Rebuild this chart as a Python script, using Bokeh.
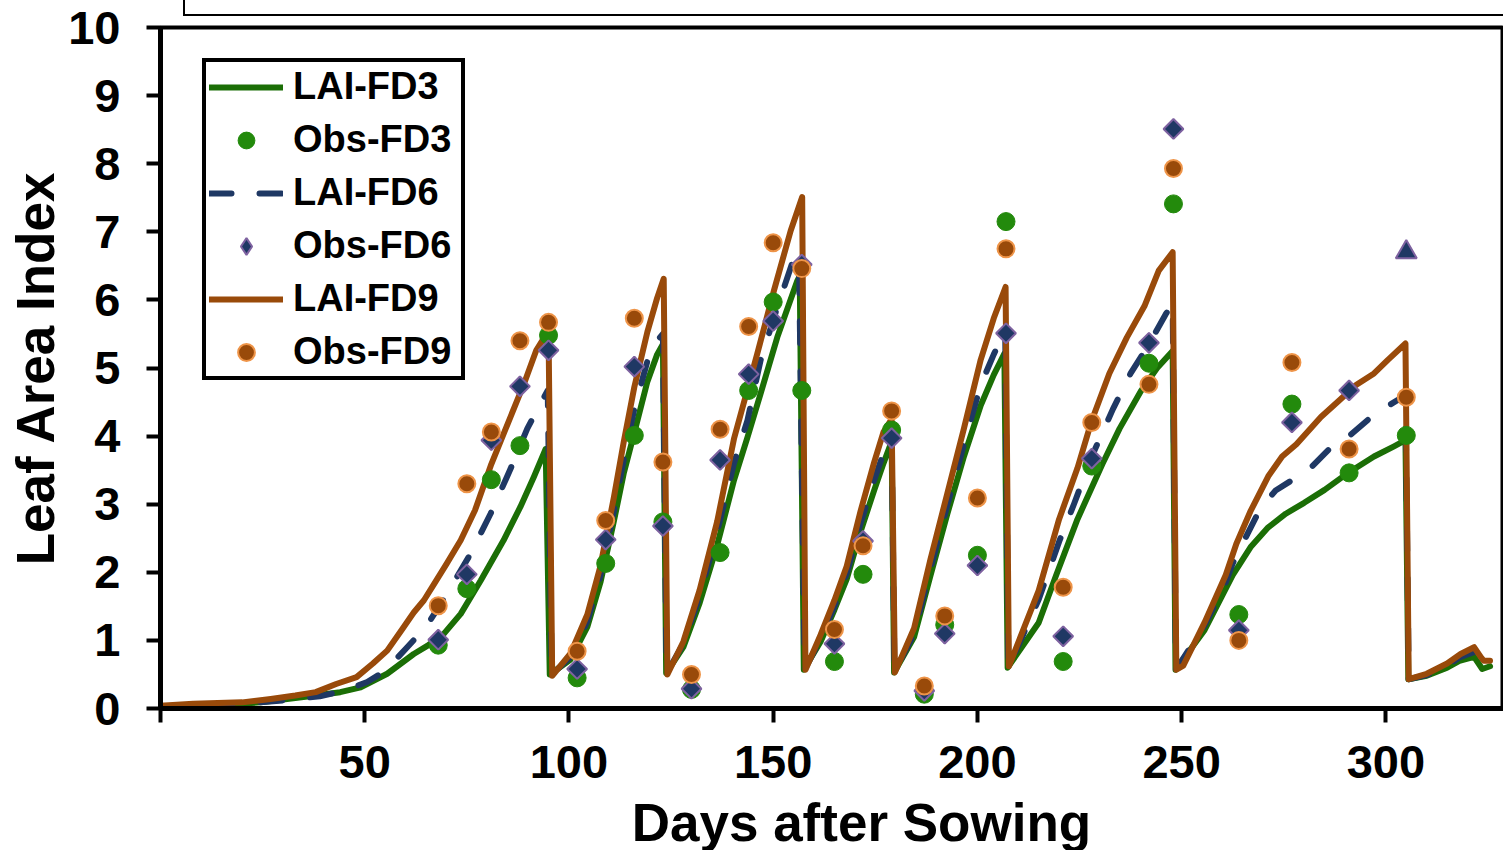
import math
from bokeh.plotting import figure
from bokeh.models import Range1d, FixedTicker, Legend, LegendItem, Div
from bokeh.embed import file_html
from bokeh.resources import INLINE

# ---------------- data ----------------
obs_days = [68, 75, 81, 88, 95, 102, 109, 116, 123, 130, 137, 144, 150, 157, 165,
            172, 179, 187, 192, 200, 207, 221, 228, 242, 248, 264, 277, 291, 305]
obs_fd3 = [0.93, 1.76, 3.36, 3.86, 5.48, 0.45, 2.13, 4.01, 2.74, 0.28, 2.29, 4.67, 5.97, 4.67, 0.69,
           1.97, 4.09, 0.21, 1.23, 2.25, 7.15, 0.69, 3.56, 5.07, 7.41, 1.38, 4.47, 3.46, 4.01]
obs6_days = [68, 75, 81, 88, 95, 102, 109, 116, 123, 130, 137, 144, 150, 157, 165,
             172, 179, 187, 192, 200, 207, 221, 228, 242, 248, 264, 277, 291]
obs_fd6 = [1.01, 1.97, 3.94, 4.73, 5.26, 0.58, 2.48, 5.02, 2.68, 0.29, 3.65, 4.91, 5.69, 6.52, 0.95,
           2.46, 3.97, 0.26, 1.10, 2.10, 5.51, 1.06, 3.67, 5.37, 8.51, 1.15, 4.20, 4.67]
obs6_extra_day = [305]
obs6_extra_val = [6.70]
obs_fd9 = [1.51, 3.30, 4.06, 5.40, 5.67, 0.84, 2.76, 5.73, 3.62, 0.50, 4.10, 5.61, 6.84, 6.46, 1.16,
           2.39, 4.37, 0.33, 1.36, 3.09, 6.75, 1.78, 4.20, 4.76, 7.93, 1.00, 5.08, 3.81, 4.57]

sim9_days = [0, 8, 20, 27, 33, 38, 43, 48, 52, 55.5, 59, 62, 64.5, 67, 70, 73.5, 77, 81, 85, 89, 92, 95, 95.9,
             100.4, 104.5, 107.7, 111, 113.4, 116, 119.2, 121.6, 123.2, 124.1,
             128, 132, 136.3, 140.4, 146.1, 150.2, 154.3, 157.1, 157.9,
             161.6, 165, 168, 171.4, 174.7, 177, 179, 179.8,
             184.5, 188.5, 192.6, 196.7, 200.8, 204, 206.9, 207.7,
             215, 220, 224.5, 228, 232.3, 236.6, 240.9, 244.4, 247.8, 248.7,
             250.4, 255.6, 260.8, 263.4, 266.8, 271.2, 274.6, 278.1, 284.1, 288.5, 292.7, 297.1, 300.5, 304.8, 305.6,
             310, 315, 318.3, 321.6, 323.3, 324, 325.5]
sim_fd9 = [0.04, 0.07, 0.09, 0.14, 0.19, 0.24, 0.36, 0.46, 0.66, 0.85, 1.15, 1.41, 1.59, 1.83, 2.12, 2.47, 2.91, 3.59, 4.18, 4.77, 5.26, 5.55, 0.48,
           0.81, 1.38, 2.09, 3.10, 3.91, 4.72, 5.53, 6.03, 6.31, 0.50,
           0.98, 1.74, 2.75, 3.96, 5.21, 6.14, 7.02, 7.51, 0.57,
           1.08, 1.59, 2.09, 2.90, 3.61, 4.06, 4.25, 0.53,
           1.18, 2.19, 3.15, 4.11, 5.12, 5.73, 6.19, 0.62,
           1.73, 2.78, 3.53, 4.23, 4.92, 5.45, 5.91, 6.43, 6.70, 0.57,
           0.63, 1.26, 1.96, 2.42, 2.89, 3.41, 3.70, 3.88, 4.28, 4.52, 4.75, 4.92, 5.12, 5.36, 0.43,
           0.51, 0.66, 0.80, 0.90, 0.75, 0.70, 0.70]

sim6_days = [0, 10, 20, 30, 39, 45, 50.6, 55, 60.4, 65, 69.4, 75.9, 80.8, 85.7, 89.8, 93, 94.8, 95.8,
             100.4, 104.5, 107.7, 111, 113.4, 116, 119.2, 121.6, 123.0, 123.9,
             128, 132, 136.3, 140.4, 143.7, 146.9, 151, 155, 156.3, 157.7,
             161.6, 165, 168, 171.4, 174.7, 177, 179, 179.7,
             184.5, 188.5, 192.6, 196.7, 200.8, 204, 206.8, 207.6,
             215, 220, 223.7, 228, 233.2, 237.5, 242, 246.1, 247.8, 248.6,
             255.6, 260.8, 262.5, 266, 269.4, 273, 277.2, 281, 286, 291, 296, 301, 304.8, 305.6,
             310, 315, 318, 321.6, 323.6, 325.5]
sim_fd6 = [0.03, 0.05, 0.07, 0.12, 0.18, 0.26, 0.39, 0.55, 0.90, 1.20, 1.61, 2.27, 2.86, 3.52, 4.11, 4.47, 4.67, 0.50,
           0.76, 1.28, 1.95, 2.90, 3.65, 4.40, 5.10, 5.40, 5.50, 0.52,
           0.95, 1.65, 2.60, 3.60, 4.23, 5.11, 5.89, 6.60, 6.65, 0.57,
           1.02, 1.50, 1.98, 2.72, 3.35, 3.75, 4.00, 0.53,
           1.10, 2.05, 2.98, 3.88, 4.75, 5.20, 5.55, 0.60,
           1.60, 2.45, 3.01, 3.70, 4.40, 4.92, 5.35, 5.79, 5.95, 0.57,
           1.22, 1.85, 2.13, 2.55, 2.95, 3.20, 3.36, 3.50, 3.80, 4.00, 4.26, 4.46, 4.60, 0.43,
           0.49, 0.63, 0.75, 0.83, 0.63, 0.66]

sim3_days = [0, 10, 24.5, 35, 44, 49, 55.5, 62, 65.3, 69.4, 73.5, 78.4, 84, 88.1, 91.4, 94.3, 95.3,
             100.4, 104.5, 107.7, 111, 113.4, 116, 119.2, 121.6, 123.0, 123.8,
             128, 132, 136.3, 140.4, 143.7, 146.9, 151, 155.9, 156.5, 157.5,
             161.6, 165, 168, 171.4, 174.7, 177, 179, 179.6,
             184.5, 188.5, 192.6, 196.7, 200.8, 204, 206.6, 207.4,
             215, 219.3, 224.5, 230.6, 234.8, 240, 244, 247.8, 248.5,
             255.6, 262.5, 267, 271.2, 275.5, 280, 285, 291, 297.1, 302, 304.8, 305.5,
             310, 315, 318, 321.6, 323.6, 325.5]
sim_fd3 = [0.03, 0.04, 0.09, 0.17, 0.24, 0.31, 0.51, 0.80, 0.92, 1.10, 1.39, 1.88, 2.47, 2.96, 3.40, 3.81, 0.50,
           0.72, 1.20, 1.85, 2.75, 3.45, 4.05, 4.80, 5.20, 5.35, 0.52,
           0.90, 1.55, 2.40, 3.35, 3.98, 4.62, 5.45, 6.28, 6.35, 0.57,
           0.98, 1.45, 1.90, 2.60, 3.20, 3.60, 3.92, 0.53,
           1.05, 1.95, 2.85, 3.70, 4.45, 4.90, 5.21, 0.60,
           1.26, 1.96, 2.78, 3.59, 4.11, 4.66, 5.00, 5.25, 0.57,
           1.15, 1.96, 2.38, 2.66, 2.86, 3.02, 3.21, 3.47, 3.70, 3.85, 3.94, 0.43,
           0.48, 0.60, 0.70, 0.76, 0.58, 0.62]

x_ticks = [0, 50, 100, 150, 200, 250, 300]
y_ticks = [0, 1, 2, 3, 4, 5, 6, 7, 8, 9, 10]

# ---------------- styles ----------------
GREEN_LINE = "#1B6E06"
GREEN_DOT = "#238A0C"
NAVY = "#1F3864"
PURPLE = "#7E62A0"
BROWN = "#994A0A"
ORANGE_EDGE = "#EE9448"
FONT = "Liberation Sans"
NB = "\u00a0"

p = figure(frame_width=1343, frame_height=681,
           min_border_left=160, min_border_top=27, min_border_right=0, min_border_bottom=142,
           x_range=Range1d(0, 328.8), y_range=Range1d(0, 10),
           output_backend="svg", toolbar_location=None)
p.background_fill_color = "white"
p.border_fill_color = "white"
p.xgrid.visible = False
p.ygrid.visible = False
p.outline_line_color = "black"
p.outline_line_width = 4

for ax in (p.xaxis[0], p.yaxis[0]):
    ax.axis_line_width = 5
    ax.axis_line_color = "black"
    ax.major_tick_line_width = 4
    ax.major_tick_line_color = "black"
    ax.major_tick_out = 14
    ax.major_tick_in = 0
    ax.minor_tick_out = 0
    ax.minor_tick_in = 0
    ax.major_label_text_font = FONT
    ax.major_label_text_font_style = "bold"
    ax.major_label_text_font_size = "47px"
    ax.major_label_text_color = "black"
    ax.axis_label_text_font = FONT
    ax.axis_label_text_font_style = "bold"
    ax.axis_label_text_font_size = "53px"
    ax.axis_label_text_color = "black"

p.xaxis[0].ticker = FixedTicker(ticks=x_ticks)
p.xaxis[0].major_label_overrides = {0: ""}
p.xaxis[0].major_label_standoff = 23
p.xaxis[0].axis_label = NB * 4 + "Days after Sowing"
p.xaxis[0].axis_label_standoff = 12
p.yaxis[0].ticker = FixedTicker(ticks=y_ticks)
p.yaxis[0].major_label_standoff = 26
p.yaxis[0].axis_label = "Leaf Area Index"
p.yaxis[0].axis_label_standoff = 0

# simulated lines
l3 = p.line(sim3_days, sim_fd3, line_color=GREEN_LINE, line_width=6, line_cap="round", line_join="round")
l6 = p.line(sim6_days, sim_fd6, line_color=NAVY, line_width=6, line_dash="22 28", line_cap="round", line_join="round")
l9 = p.line(sim9_days, sim_fd9, line_color=BROWN, line_width=6, line_cap="round", line_join="round")

# observations
s3 = p.scatter(obs_days, obs_fd3, marker="circle", size=18, fill_color=GREEN_DOT, line_color=GREEN_DOT, line_width=1)
# diamond-shaped renderer (sits fully underneath the rotated squares; gives the legend its diamond)
s6_leg = p.scatter(obs6_days, obs_fd6, marker="diamond", size=19,
                   fill_color=NAVY, line_color=PURPLE, line_width=2)
s6 = p.scatter(obs6_days, obs_fd6, marker="square", angle=math.pi / 4, size=14,
               fill_color=NAVY, line_color=PURPLE, line_width=2)
p.scatter(obs6_extra_day, obs6_extra_val, marker="triangle", size=21,
          fill_color=NAVY, line_color=PURPLE, line_width=2)
s9 = p.scatter(obs_days, obs_fd9, marker="circle", size=17, fill_color=BROWN, line_color=ORANGE_EDGE, line_width=2)

legend = Legend(items=[
    LegendItem(label="LAI-FD3", renderers=[l3]),
    LegendItem(label="Obs-FD3", renderers=[s3]),
    LegendItem(label="LAI-FD6", renderers=[l6]),
    LegendItem(label="Obs-FD6", renderers=[s6_leg]),
    LegendItem(label="LAI-FD9", renderers=[l9]),
    LegendItem(label="Obs-FD9", renderers=[s9]),
], location=(42, 328))
legend.border_line_color = "black"
legend.border_line_alpha = 1
legend.border_line_width = 4
legend.background_fill_color = "white"
legend.background_fill_alpha = 1
legend.label_text_font = FONT
legend.label_text_font_style = "bold"
legend.label_text_font_size = "38px"
legend.label_text_color = "black"
legend.glyph_width = 74
legend.glyph_height = 42
legend.label_height = 42
legend.label_width = 165
legend.spacing = 10
legend.padding = 3
legend.label_standoff = 10
legend.margin = 0
p.add_layout(legend)

# partially visible title box at the very top (only its lower edge is in view)
top_box = Div(text="", width=1400, height=55,
              styles={"position": "fixed", "left": "178px", "top": "-44px",
                      "width": "1400px", "height": "55px",
                      "border": "2px solid black", "box-sizing": "border-box",
                      "z-index": "10", "pointer-events": "none", "background": "transparent"})

open("out.html", "w").write(file_html([p, top_box], INLINE))
